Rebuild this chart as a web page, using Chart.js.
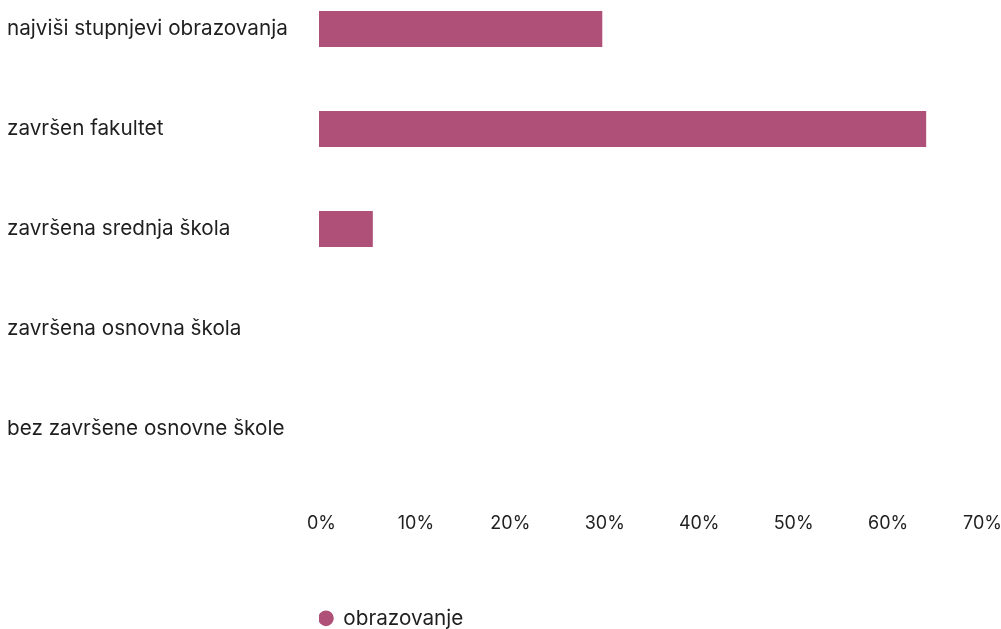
<!DOCTYPE html>
<html>
<head>
<meta charset="utf-8">
<script src="https://cdn.jsdelivr.net/npm/chart.js@4"></script>
<style>
  html, body { margin: 0; padding: 0; background: #fff; }
  #chart { display: block; }
</style>
</head>
<body>
<canvas id="chart" width="1001" height="629"></canvas>
<script>
// podaci s grafa
const kategorije = [
  "najviši stupnjevi obrazovanja",
  "završen fakultet",
  "završena srednja škola",
  "završena osnovna škola",
  "bez završene osnovne škole",
];
const obrazovanje = [30, 64.3, 5.7, 0, 0];
const xTicks = [0, 10, 20, 30, 40, 50, 60, 70];
const nazivSerije = "obrazovanje";

const boja = "rgb(174, 80, 119)";
const tekst = "#1f1f1f";
const fontVeliki = { family: "Inter", size: 20.7 };
const fontMali = { family: "Inter", size: 18 };

const ctx = document.querySelector("#chart").getContext("2d");
const myChart = new Chart(ctx, {
  type: "bar",
  data: {
    labels: kategorije,
    datasets: [
      {
        label: nazivSerije,
        data: obrazovanje,
        backgroundColor: boja,
        borderWidth: 0,
        inflateAmount: 0,
        barThickness: 36,
        clip: false,
      },
    ],
  },
  options: {
    indexAxis: "y",
    responsive: false,
    animation: false,
    layout: { padding: { left: 7, right: 21, top: 29, bottom: 0 } },
    scales: {
      x: {
        min: xTicks[0],
        max: xTicks[xTicks.length - 1],
        afterBuildTicks: (scale) => {
          scale.ticks = xTicks.map((v) => ({ value: v }));
        },
        afterFit: (scale) => {
          scale.height = 179;
        },
        grid: { display: false, drawTicks: true, tickLength: 84 },
        border: { display: false },
        ticks: {
          padding: 0,
          labelOffset: 2.5,
          color: tekst,
          font: fontMali,
          callback: (v) => v + "%",
        },
      },
      y: {
        offset: false,
        grid: { display: false, drawTicks: false, tickLength: 0 },
        border: { display: false },
        afterFit: (scale) => {
          scale.width = 312;
        },
        ticks: {
          crossAlign: "far",
          color: tekst,
          font: fontVeliki,
          padding: 0,
        },
      },
    },
    plugins: {
      legend: {
        position: "bottom",
        align: "start",
        fullSize: false,
        maxHeight: 21,
        labels: {
          usePointStyle: true,
          pointStyle: "circle",
          boxWidth: 14,
          boxHeight: 11,
          padding: 0,
          color: tekst,
          font: fontVeliki,
        },
      },
      tooltip: { enabled: false },
    },
  },
});
</script>
</body>
</html>
